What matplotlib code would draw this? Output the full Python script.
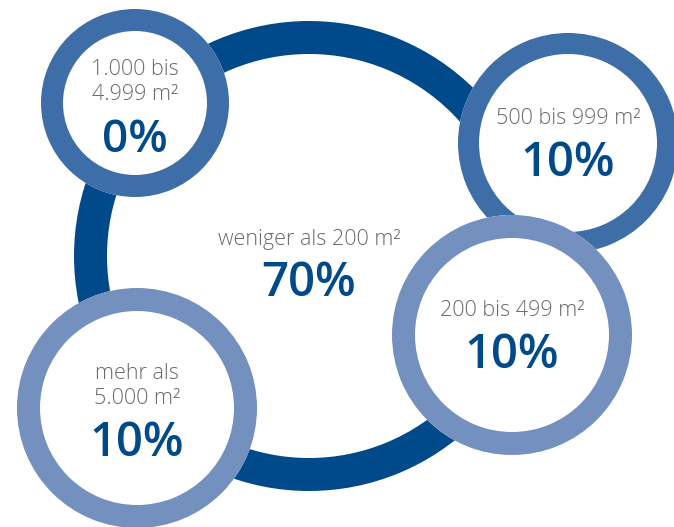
import matplotlib
matplotlib.use("Agg")
import matplotlib.pyplot as plt
from matplotlib.patches import Circle, Wedge

# Share of properties by floor area
categories = ["weniger als 200 m²", "1.000 bis\n4.999 m²", "500 bis 999 m²",
              "mehr als\n5.000 m²", "200 bis 499 m²"]
shares = [70, 0, 10, 10, 10]

# Bubble layout in pixel coordinates: (cx, cy, outer radius, ring width, ring colour)
DARK = "#004a8b"
MID = "#3d6ea7"
LIGHT = "#7490bf"
layout = [
    (309, 256, 235, 33, DARK),
    (135, 103, 94, 22, MID),
    (568, 143, 110, 21, MID),
    (137, 408, 120, 23, LIGHT),
    (512, 335, 120, 23, LIGHT),
]
# Vertical offsets of label and value relative to the bubble centre
text_pos = [
    (-16, 28),
    (-21, 38),
    (-25, 20),
    (-22, 36),
    (-25, 20),
]
label_sizes = [15.5, 15.5, 15.5, 15.5, 15.5]
value_sizes = [34, 33, 34, 34, 34]

W, H = 674, 527
fig = plt.figure(figsize=(W / 100, H / 100), dpi=100)
ax = fig.add_axes([0, 0, 1, 1])
ax.set_xlim(0, W)
ax.set_ylim(H, 0)
ax.set_aspect("equal")
ax.axis("off")

for i, ((cx, cy, r, w, col), cat, val) in enumerate(zip(layout, categories, shares)):
    z = 2 + 2 * i
    ax.add_patch(Circle((cx, cy), r, facecolor="white", edgecolor="none", zorder=z))
    ax.add_patch(Wedge((cx, cy), r, 0, 360, width=w, facecolor=col,
                       edgecolor="none", zorder=z + 0.5))
    dl, dv = text_pos[i]
    ax.text(cx, cy + dl, cat, ha="center", va="center", fontsize=label_sizes[i],
            color="#6a6a6a", family="Open Sans", fontweight="light",
            linespacing=1.2, zorder=z + 1)
    ax.text(cx, cy + dv, f"{val}%", ha="center", va="center", fontsize=value_sizes[i],
            color="#004a8b", family="Open Sans", fontweight="semibold", zorder=z + 1)

fig.savefig("out.png", dpi=100, facecolor="white")
